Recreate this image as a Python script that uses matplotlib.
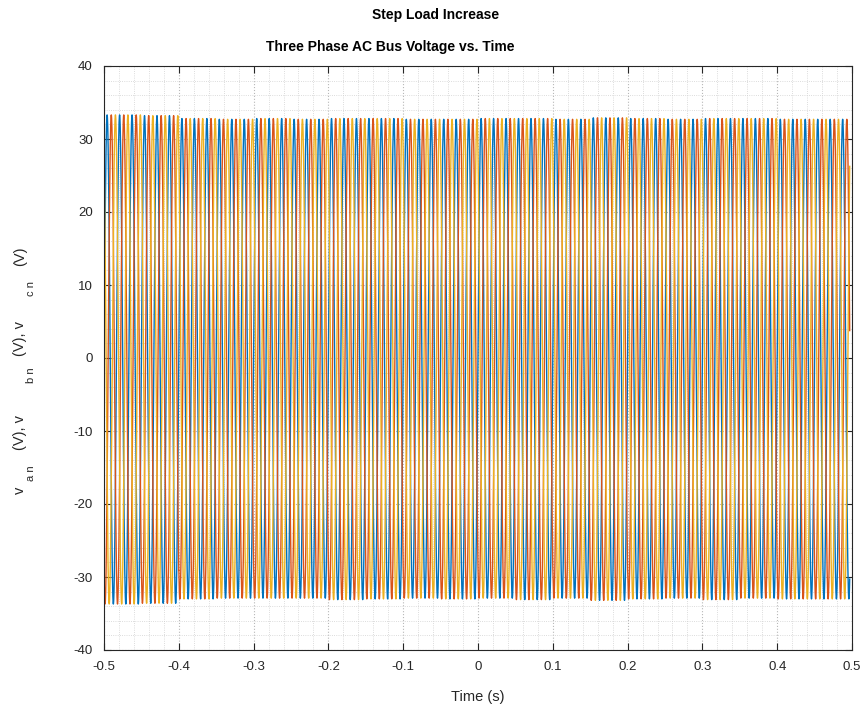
import numpy as np
import matplotlib
matplotlib.use("Agg")
import matplotlib.pyplot as plt
from matplotlib.ticker import MultipleLocator

plt.rcParams['font.family'] = ['Liberation Sans', 'DejaVu Sans']

# Bus parameters
f_line = 60.0                       # Hz
t_start, t_end = -0.5, 0.497        # s
# Peak phase voltage per 50 ms window (V)
window_edges = [-0.50, -0.45, -0.40, -0.35, -0.30, -0.25, -0.20, -0.15, -0.10, -0.05,
                0.00, 0.05, 0.10, 0.15, 0.20, 0.25, 0.30, 0.35, 0.40, 0.45, 0.50]
peak_pos = [33.3, 33.2, 32.8, 32.7, 32.8, 32.7, 32.8, 32.8, 32.7, 32.7,
            32.8, 32.8, 32.7, 32.9, 32.8, 32.7, 32.8, 32.8, 32.7, 32.7]
peak_neg = [33.7, 33.6, 33.0, 32.9, 32.9, 32.9, 33.1, 33.0, 32.9, 33.0,
            32.9, 33.1, 32.9, 33.2, 33.0, 32.9, 33.1, 32.9, 33.0, 33.0]
phase_shift_deg = [0.0, -120.0, 120.0]
colors = ['#0072BD', '#D95319', '#EDB120']

t = np.arange(t_start, t_end, 1.0 / 12000.0)
idx = np.clip(np.searchsorted(window_edges, t, side='right') - 1, 0, len(peak_pos) - 1)
amp_p = np.asarray(peak_pos)[idx]
amp_n = np.asarray(peak_neg)[idx]

fig = plt.figure(figsize=(8.67, 7.13), dpi=100)
ax = fig.add_axes([104 / 867, 1 - 650 / 713, (852 - 104) / 867, (650 - 66) / 713])

for ph, col in zip(phase_shift_deg, colors):
    s = np.sin(2 * np.pi * f_line * t + np.deg2rad(ph))
    v = np.where(s >= 0, amp_p * s, amp_n * s)
    ax.plot(t, v, color=col, lw=1.0)

ax.set_xlim(-0.5, 0.5)
ax.set_ylim(-40, 40)
ax.xaxis.set_major_locator(MultipleLocator(0.1))
ax.yaxis.set_major_locator(MultipleLocator(10))
ax.xaxis.set_minor_locator(MultipleLocator(0.02))
ax.yaxis.set_minor_locator(MultipleLocator(2))
ax.xaxis.set_major_formatter(plt.FuncFormatter(lambda x, p: "0" if abs(x) < 1e-9 else f"{x:.1f}"))
ax.yaxis.set_major_formatter(plt.FuncFormatter(lambda y, p: f"{y:.0f}"))

ax.grid(which='major', color='#b8b8b8', linestyle=':', linewidth=0.8)
ax.grid(which='minor', color='#d0d0d0', linestyle=':', linewidth=0.6)
ax.tick_params(which='major', direction='in', length=5, width=0.8, top=True, right=True,
               labelsize=9.5, colors='#262626', pad=8)
ax.tick_params(which='minor', length=0, top=True, right=True)
for sp in ax.spines.values():
    sp.set_color('#262626')
    sp.set_linewidth(0.8)
ax.set_axisbelow(True)

ax.set_xlabel('Time (s)', fontsize=10.5, color='#262626', labelpad=12)

fig.text(436 / 867, 1 - 15 / 713, 'Step Load Increase', ha='center', va='center',
         fontsize=10, fontweight='bold', color='#000000')
fig.text(390 / 867, 1 - 47 / 713, 'Three Phase AC Bus Voltage vs. Time', ha='center', va='center',
         fontsize=10, fontweight='bold', color='#000000')

# Vertical axis label with lowered (subscript) phase indices
ylabel_parts = [
    ('v', 490, False), ('a n', 473, True), ('(V), v', 433, False),
    ('b n', 375, True), ('(V), v', 338, False), ('c n', 288, True), ('(V)', 256, False),
]
for txt, ypix, sub in ylabel_parts:
    fig.text((31 if sub else 20) / 867, 1 - ypix / 713, txt, rotation=90,
             rotation_mode='anchor', ha='center', va='center',
             fontsize=8 if sub else 10.5, color='#262626')

fig.savefig('out.png', dpi=100)
